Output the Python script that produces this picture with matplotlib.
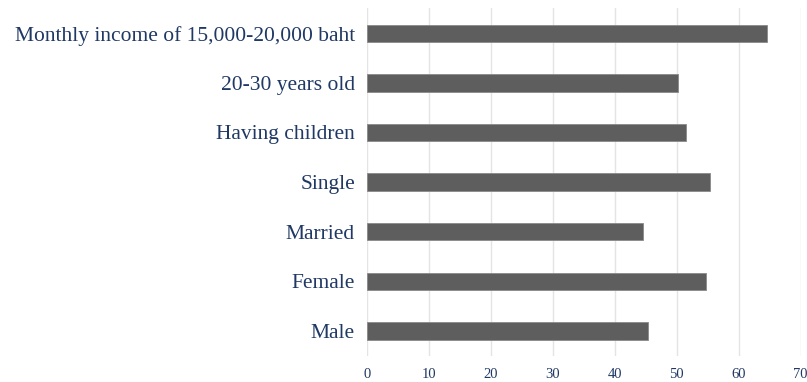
import matplotlib
matplotlib.use("Agg")
import matplotlib.pyplot as plt

categories = ["Male", "Female", "Married", "Single", "Having children",
              "20-30 years old", "Monthly income of 15,000-20,000 baht"]
values = [45.3, 54.8, 44.6, 55.4, 51.5, 50.2, 64.6]
xticks = [0, 10, 20, 30, 40, 50, 60, 70]

navy = "#1F3864"
fig = plt.figure(figsize=(8.07, 3.82), dpi=100)
ax = fig.add_axes([0.4544, 0.0686, 0.9922 - 0.4544, 0.978 - 0.0686])

y = list(range(len(categories)))
ax.barh(y, values, height=0.35, color="#5e5e5e", edgecolor="#8a8a8a", linewidth=0.6, zorder=3)
ax.set_yticks(y)
ax.set_yticklabels(categories, fontfamily="Liberation Serif", fontsize=15.5, color=navy)
ax.set_ylim(-0.5, len(categories) - 0.5)
ax.set_xlim(0, 70)
ax.set_xticks(xticks)
ax.set_xticklabels([str(t) for t in xticks], fontfamily="Liberation Serif", fontsize=10.5, color=navy)
ax.tick_params(axis="both", length=0)
ax.tick_params(axis="y", pad=8.5)
ax.tick_params(axis="x", pad=9)
ax.grid(axis="x", color="#e4e4e4", linewidth=1.0, zorder=0)
for s in ax.spines.values():
    s.set_visible(False)

fig.savefig("out.png", dpi=100)
